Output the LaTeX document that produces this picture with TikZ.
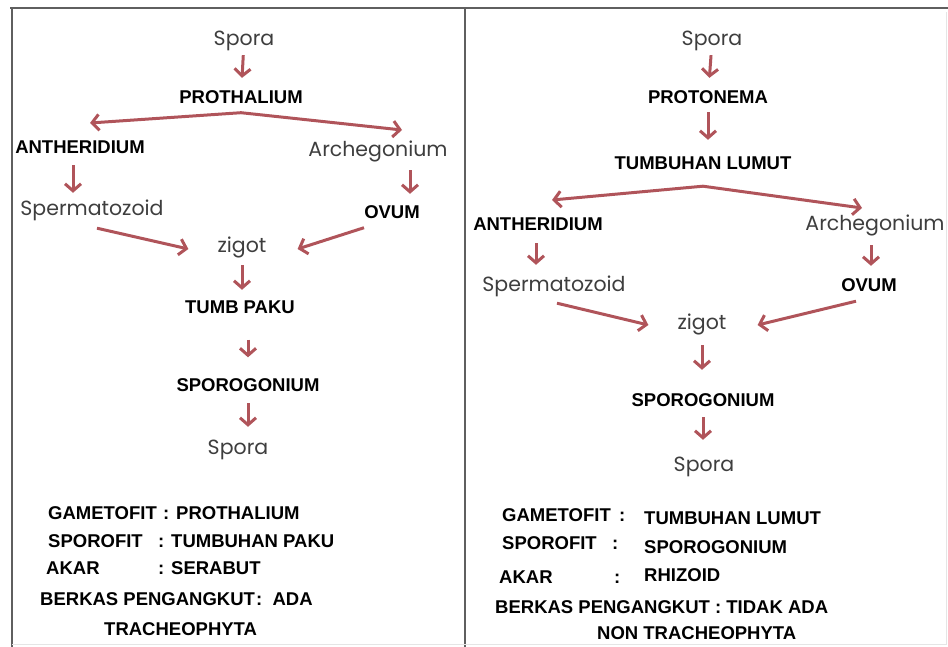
\documentclass[tikz,border=0pt]{standalone}
\usepackage{fontspec}
\setmainfont{Liberation Sans}
\newfontfamily\handfont{Poppins}
\usetikzlibrary{arrows.meta,positioning}
\definecolor{arrowred}{RGB}{176,84,90}
\definecolor{textgray}{RGB}{62,62,62}
\definecolor{framegray}{RGB}{95,95,95}
\tikzset{
	bold/.style={inner sep=1pt, text height=13pt, text depth=0pt, font=\fontsize{18.5}{20}\selectfont\bfseries},
	hand/.style={inner sep=1pt, text height=12pt, text depth=4pt, text=textgray, font=\handfont\fontsize{20.5}{22}\selectfont},
	info/.style={inner sep=0pt, anchor=base west, font=\fontsize{18.5}{20}\selectfont\bfseries},
	arr/.style={draw=arrowred, line width=3pt, -{Straight Barb[length=7pt,width=16pt]}}
}
\begin{document}
\begin{tikzpicture}[x=1pt,y=-1pt]
				      \clip (0,0) rectangle (948,647);
				      \draw[framegray, line width=2pt] (10,8) -- (948,8);
				      \draw[framegray, line width=2pt] (12,8) -- (12,647);
				      \draw[framegray, line width=2pt] (465,8) -- (465,647);
				      \draw[gray!20, line width=1pt] (946,12) -- (946,644) -- (12,644);
				      \node (lspora1)[hand] at (244,42) {Spora};
				      \node (lproth)[bold] at (241,97) {PROTHALIUM};
				      \node (lanth)[bold] at (80,147) {ANTHERIDIUM};
				      \node (larch)[hand] at (378,153) {Archegonium};
				      \node (lsperm)[hand] at (92,212) {Spermatozoid};
				      \node (lovum)[bold] at (392,212) {OVUM};
				      \node (lzig)[hand] at (242,249) {zigot};
				      \node (lpaku)[bold] at (240,307) {TUMB PAKU};
				      \node (lsporog)[bold] at (248,385) {SPOROGONIUM};
				      \node (lspora2)[hand] at (238,450) {Spora};
				      \coordinate (lsplit) at ([yshift=-8pt]lproth.south);
				      \coordinate (lanttip) at (90,123);
				      \coordinate (larctip) at (402,130);
				      \draw[arr, shorten <=4pt, shorten >=11.5pt] (lspora1) -- (lproth);
				      \draw[arr] (lsplit) -- (lanttip);
				      \draw[arr] (lsplit) -- (larctip);
				      \draw[arr, shorten <=10.5pt, shorten >=10pt] ([xshift=-7pt]lanth.south) -- ([xshift=-7pt]lanth.south |- lsperm.north);
				      \draw[arr, shorten <=8pt, shorten >=10.5pt] ([xshift=32pt]larch.south) -- ([xshift=32pt]larch.south |- lovum.north);
				      \draw[arr] ([shift={(5pt,-7pt)}]lsperm.south) -- ([xshift=-28pt]lzig.west);
				      \draw[arr] ([shift={(1pt,-8pt)}]lovum.south west) -- ([xshift=30pt]lzig.east);
				      \draw[arr, shorten <=7pt, shorten >=9.5pt] (lzig.south) -- (lzig.south |- lpaku.north);
				      \draw[arr, shorten <=25pt, shorten >=20pt] (lsporog.north |- lpaku.south) -- (lsporog.north);
				      \draw[arr, shorten <=10.5pt, shorten >=14pt] (lsporog.south) -- (lsporog.south |- lspora2.north);
				      \node (lgam)[info] at (48,519.5) {GAMETOFIT};
				      \node (lgamv)[info] at (163,519.5) {: PROTHALIUM};
				      \node (lspf)[info] at (48,547.5) {SPOROFIT};
				      \node (lspfv)[info] at (158,547.5) {: TUMBUHAN PAKU};
				      \node (lakar)[info] at (46,574.5) {AKAR};
				      \node (lakarv)[info] at (158,574.5) {: SERABUT};
				      \node (lberk)[info] at (40,605.5) {BERKAS PENGANGKUT};
				      \node (lberkv)[info] at (256,605.5) {:\ \ ADA};
				      \node (ltrach)[info] at (104,635.5) {TRACHEOPHYTA};
				      \node (rspora1)[hand] at (712,42) {Spora};
				      \node (rproto)[bold] at (708,97) {PROTONEMA};
				      \node (rtumb)[bold] at (703,163) {TUMBUHAN LUMUT};
				      \node (ranth)[bold] at (538,224) {ANTHERIDIUM};
				      \node (rarch)[hand] at (875,227) {Archegonium};
				      \node (rsperm)[hand] at (554,287) {Spermatozoid};
				      \node (rovum)[bold] at (869,285) {OVUM};
				      \node (rzig)[hand] at (702,325) {zigot};
				      \node (rsporog)[bold] at (703,400) {SPOROGONIUM};
				      \node (rspora2)[hand] at (704,467) {Spora};
				      \coordinate (rsplit) at ([yshift=-15.5pt]rtumb.south);
				      \coordinate (ranttip) at (552,200);
				      \coordinate (rarctip) at (862,208);
				      \draw[arr, shorten <=4pt, shorten >=11.5pt] (rspora1) -- (rproto);
				      \draw[arr, shorten <=7.5pt, shorten >=15.5pt] (rproto.south) -- (rproto.south |- rtumb.north);
				      \draw[arr] (rsplit) -- (ranttip);
				      \draw[arr] (rsplit) -- (rarctip);
				      \draw[arr, shorten <=11.5pt, shorten >=13pt] ([xshift=-2pt]ranth.south) -- ([xshift=-2pt]ranth.south |- rsperm.north);
				      \draw[arr, shorten <=9pt, shorten >=11.5pt] ([xshift=2pt]rovum.north |- rarch.south) -- ([xshift=2pt]rovum.north);
				      \draw[arr] ([shift={(3pt,-7pt)}]rsperm.south) -- ([xshift=-28pt]rzig.west);
				      \draw[arr] ([shift={(-13pt,-8.5pt)}]rovum.south) -- ([xshift=30pt]rzig.east);
				      \draw[arr, shorten <=11pt, shorten >=22.5pt] (rzig.south) -- (rzig.south |- rsporog.north);
				      \draw[arr, shorten <=9.5pt, shorten >=18pt] (rsporog.south) -- (rsporog.south |- rspora2.north);
				      \node (rgam)[info] at (502,521.5) {GAMETOFIT};
				      \node (rgamc)[info] at (619,521.5) {:};
				      \node (rgamv)[info] at (644,524.5) {TUMBUHAN LUMUT};
				      \node (rspf)[info] at (502,549.5) {SPOROFIT};
				      \node (rspfc)[info] at (612,549.5) {:};
				      \node (rspfv)[info] at (644,553.5) {SPOROGONIUM};
				      \node (rakar)[info] at (499,583.5) {AKAR};
				      \node (rakarc)[info] at (614,583.5) {:};
				      \node (rakarv)[info] at (644,581.5) {RHIZOID};
				      \node (rberk)[info] at (495,613.5) {BERKAS PENGANGKUT : TIDAK ADA};
				      \node (rtrach)[info] at (597,639.5) {NON TRACHEOPHYTA};
			      \end{tikzpicture}
\end{document}
